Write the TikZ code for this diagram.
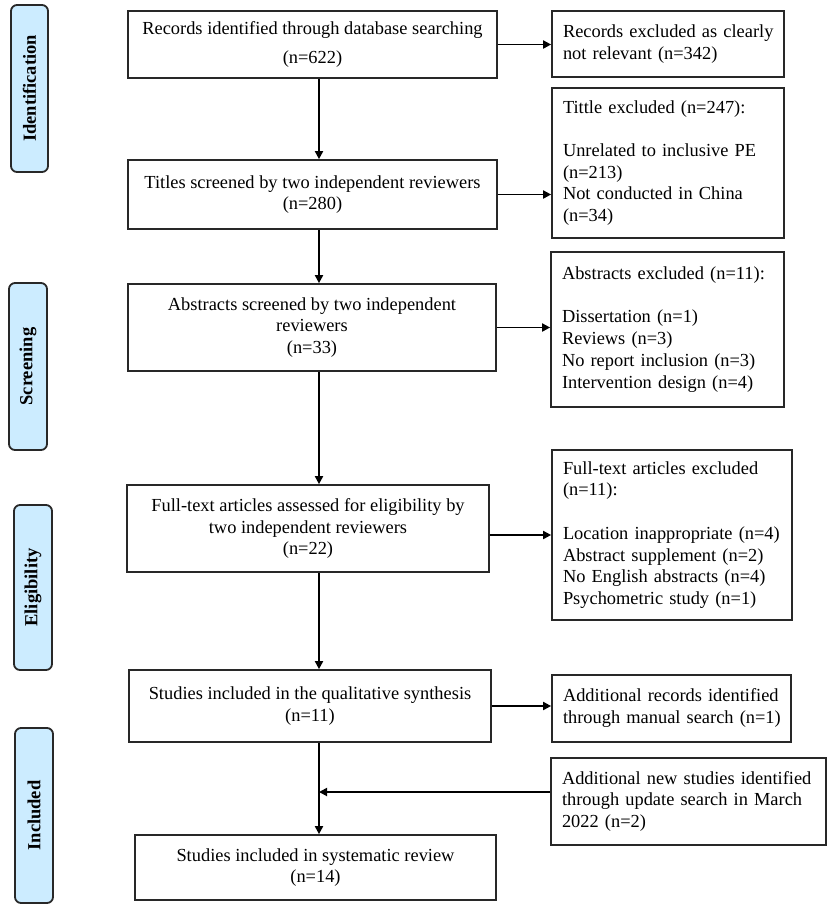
\documentclass[tikz,border=0pt]{standalone}
\usepackage{fontspec}
\setmainfont{Liberation Serif}
\usetikzlibrary{arrows.meta}
\definecolor{lblue}{RGB}{204,236,255}
\definecolor{edge}{RGB}{40,40,40}
\newcommand{\lft}[1]{\noindent\begin{tabular}{@{}l@{}}#1\end{tabular}}
\begin{document}
\begin{tikzpicture}[x=1pt,y=-1pt,
  txt/.style={font=\fontsize{18.4}{21.7}\selectfont},
  cbox/.style={txt,draw=edge,line width=1.7pt,inner sep=0pt,align=center},
  lbox/.style={txt,draw=edge,line width=1.7pt,inner xsep=11pt,inner ysep=0pt,align=left},
  side/.style={draw=edge,fill=lblue,line width=1.8pt,rounded corners=6pt,rotate=90,inner sep=0pt,
    font=\fontsize{18.5}{22}\selectfont\bfseries},
  arr/.style={line width=1.8pt,-{Triangle[length=8pt,width=8pt]}}]
\useasboundingbox (0,0) rectangle (829,908);
\fill[white] (0,0) rectangle (829,908);

% side labels
\node[side,minimum width=167pt,minimum height=37pt] (L1) at (29.5,88.5) {Identification};
\node[side,minimum width=167pt,minimum height=38pt] (L2) at (28,366.5) {Screening};
\node[side,minimum width=165pt,minimum height=38pt] (L3) at (33,587.5) {Eligibility};
\node[side,minimum width=175pt,minimum height=38pt] (L4) at (34,815.5) {Included};

% main boxes
\node[cbox,minimum width=369pt,minimum height=67pt] (b1) at (312.5,44.5)
  {Records identified through database searching\\[7pt](n=622)};
\node[cbox,minimum width=369pt,minimum height=69pt] (b2) at (312.5,194.5)
  {Titles screened by two independent reviewers\\(n=280)};
\node[cbox,minimum width=368pt,minimum height=87pt] (b3) at (312,327.5)
  {Abstracts screened by two independent\\reviewers\\(n=33)};
\node[cbox,minimum width=362pt,minimum height=87pt] (b4) at (308,528.5)
  {Full-text articles assessed for eligibility by\\two independent reviewers\\(n=22)};
\node[cbox,minimum width=362pt,minimum height=72pt] (b5) at (310,706)
  {Studies included in the qualitative synthesis\\(n=11)};
\node[cbox,minimum width=361pt,minimum height=65pt] (b6) at (315.5,867.5)
  {Studies included in systematic review\\(n=14)};

% right boxes
\node[lbox,text width=210pt,minimum height=66pt] (R1) at (668,44)
  {\lft{Records excluded as clearly\\not relevant (n=342)}};
\node[lbox,text width=210pt,minimum height=150pt] (R2) at (668,163)
  {\lft{Tittle excluded (n=247):\\[21.7pt]Unrelated to inclusive PE\\(n=213)\\Not conducted in China\\(n=34)}};
\node[lbox,text width=211pt,minimum height=155pt] (R3) at (667.5,329.5)
  {\lft{Abstracts excluded (n=11):\\[21.7pt]Dissertation (n=1)\\Reviews (n=3)\\No report inclusion (n=3)\\Intervention design (n=4)}};
\node[lbox,text width=218pt,minimum height=170pt] (R4) at (672,535)
  {\lft{Full-text articles excluded\\(n=11):\\[21.7pt]Location inappropriate (n=4)\\Abstract supplement (n=2)\\No English abstracts (n=4)\\Psychometric study (n=1)}};
\node[lbox,text width=217pt,minimum height=67pt] (R5) at (671.5,708.5)
  {\lft{Additional records identified\\through manual search (n=1)}};
\node[lbox,text width=253pt,minimum height=87pt] (R6) at (688.5,801.5)
  {\lft{Additional new studies identified\\through update search in March\\2022 (n=2)}};

% spine
\coordinate (sp) at (319,0);
\coordinate (m) at (319,792);

\draw[arr] (b1.south -| sp) -- (b2.north -| sp);
\draw[arr] (b2.south -| sp) -- (b3.north -| sp);
\draw[arr] (b3.south -| sp) -- (b4.north -| sp);
\draw[arr] (b4.south -| sp) -- (b5.north -| sp);
\draw[arr] (b5.south -| sp) -- (b6.north -| sp);

\draw[arr] (b1.east) -- (b1.east -| R1.west);
\draw[arr] (b2.east) -- (b2.east -| R2.west);
\draw[arr] (b3.east) -- (b3.east -| R3.west);
\draw[arr] (b4.east |- R4.west) -- (R4.west);
\draw[arr] (b5.east) -- (b5.east -| R5.west);
\draw[arr] (R6.west |- m) -- (m);
\end{tikzpicture}
\end{document}
